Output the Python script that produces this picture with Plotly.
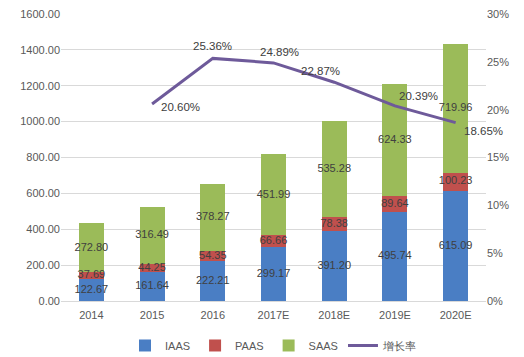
import plotly.graph_objects as go

years = ["2014", "2015", "2016", "2017E", "2018E", "2019E", "2020E"]
iaas = [122.67, 161.64, 222.21, 299.17, 391.20, 495.74, 615.09]
paas = [37.69, 44.25, 54.35, 66.66, 78.38, 89.64, 100.23]
saas = [272.80, 316.49, 378.27, 451.99, 535.28, 624.33, 719.96]
growth_years = ["2015", "2016", "2017E", "2018E", "2019E", "2020E"]
growth = [20.60, 25.36, 24.89, 22.87, 20.39, 18.65]

c_iaas = "#4A7EC4"
c_paas = "#C0504D"
c_saas = "#9BBB59"
c_line = "#6E5A9A"
txt = "#404040"
axis_txt = "#595959"
font_family = "Liberation Sans, Arial, sans-serif"

fig = go.Figure()
fig.add_trace(go.Bar(x=years, y=iaas, name="IAAS", marker_color=c_iaas, marker_line_width=0))
fig.add_trace(go.Bar(x=years, y=paas, name="PAAS", marker_color=c_paas, marker_line_width=0))
fig.add_trace(go.Bar(x=years, y=saas, name="SAAS", marker_color=c_saas, marker_line_width=0))

mid_i = [v / 2 for v in iaas]
mid_p = [a + b / 2 for a, b in zip(iaas, paas)]
mid_s = [a + b + c / 2 for a, b, c in zip(iaas, paas, saas)]
for mids, vals in [(mid_i, iaas), (mid_p, paas), (mid_s, saas)]:
    fig.add_trace(go.Scatter(
        x=years, y=mids, mode="text", text=[f"{v:.2f}" for v in vals],
        textfont=dict(color=txt, size=11, family=font_family),
        showlegend=False, hoverinfo="skip", cliponaxis=False))

fig.add_trace(go.Scatter(
    x=growth_years, y=growth, name="增长率", yaxis="y2",
    mode="lines", line=dict(color=c_line, width=3), cliponaxis=False))

# growth labels, offset from each point (pixels); x given as category index
offsets = [(28, -3), (0, 12), (6, 11), (-14, 11), (24, 10), (28, -8)]
for gx, gv, (dx, dy) in zip(growth_years, growth, offsets):
    fig.add_annotation(x=years.index(gx), y=gv, xref="x", yref="y2",
                       text=f"{gv:.2f}%",
                       showarrow=False, xshift=dx, yshift=dy,
                       font=dict(color=txt, size=11.5, family=font_family))

fig.update_layout(
    template="none",
    width=524, height=357,
    margin=dict(l=61, r=38, t=14, b=56, autoexpand=False),
    paper_bgcolor="white", plot_bgcolor="white",
    barmode="stack", bargap=0.59,
    font=dict(family=font_family, size=11, color=axis_txt),
    xaxis=dict(type="category", categoryorder="array", categoryarray=years,
               range=[-0.5, len(years) - 0.5],
               showgrid=False, showline=False, ticks="", zeroline=False,
               ticklabelstandoff=6, automargin=False,
               tickfont=dict(size=11, color=axis_txt)),
    yaxis=dict(range=[0, 1600], dtick=200, tickformat=".2f", ticks="",
               showgrid=True, gridcolor="#D9D9D9", gridwidth=1, zeroline=True,
               zerolinecolor="#D9D9D9", zerolinewidth=1, showline=False,
               color=axis_txt, automargin=False,
               tickfont=dict(size=11, color=axis_txt)),
    yaxis2=dict(range=[0, 30], dtick=5, ticksuffix="%", overlaying="y", ticks="",
                side="right", showgrid=False, zeroline=False, showline=False,
                color=axis_txt, automargin=False,
                tickfont=dict(size=11, color=axis_txt, family=font_family)),
    legend=dict(orientation="h", x=0.5, xanchor="center", y=-0.155, yanchor="middle",
                font=dict(size=11, color=axis_txt), traceorder="normal"),
)

fig.write_html("out.html", config={"displayModeBar": False},
               post_script="document.body.style.margin='0';document.body.style.padding='0';")
